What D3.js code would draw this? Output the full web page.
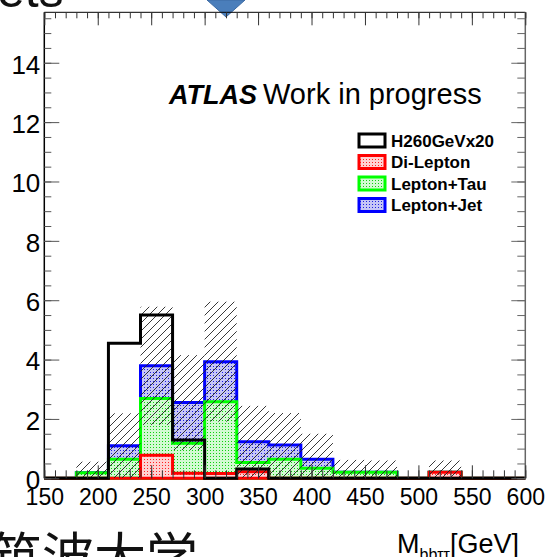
<!DOCTYPE html>
<html>
<head>
<meta charset="utf-8">
<script src="https://cdn.jsdelivr.net/npm/d3@7"></script>
<style>
  body { margin: 0; background: #fff; }
  svg { display: block; font-family: "Liberation Sans", Arial, sans-serif; }
</style>
</head>
<body>
<div id="chart"></div>
<script>
// 15 bins of 30 GeV
const binEdges = [150, 180, 210, 240, 270, 300, 330, 360, 390, 420, 450, 480, 510, 540, 570, 600];
// signal x20
const signal   = [0, 0, 4.55, 5.50, 1.29, 0, 0.31, 0, 0, 0, 0, 0, 0, 0, 0];
// backgrounds, stacked in this order
const diLepton = [0, 0, 0, 0.78, 0.17, 0.16, 0.22, 0, 0, 0, 0, 0, 0.20, 0, 0];
const lepTau   = [0, 0.19, 0.64, 1.91, 1.01, 2.42, 0.31, 0.64, 0.34, 0.20, 0.20, 0, 0, 0, 0];
const lepJet   = [0, 0, 0.46, 1.10, 1.37, 1.35, 0.70, 0.48, 0.30, 0, 0, 0, 0, 0, 0];
// uncertainty on the stack sum (hatched band)
const stackErr = [0, 0.37, 1.09, 1.99, 1.60, 2.02, 1.21, 1.08, 0.86, 0.42, 0.40, 0, 0.40, 0, 0];

const xTicks = [150, 200, 250, 300, 350, 400, 450, 500, 550, 600];
const yTicks = [0, 2, 4, 6, 8, 10, 12, 14];
const legendLabels = ["H260GeVx20", "Di-Lepton", "Lepton+Tau", "Lepton+Jet"];

const width = 551, height = 557;
const plot = { left: 44.3, right: 525.3, top: 12.3, bottom: 478.3 };

const svg = d3.select("#chart").append("svg")
  .attr("width", width)
  .attr("height", height);

const x = d3.scaleLinear().domain([150, 600]).range([plot.left, plot.right]);
const y = d3.scaleLinear().domain([0, 15.7]).range([plot.bottom, plot.top]);

// fill patterns (ROOT style dots and hatch)
const defs = svg.append("defs");
function dotPattern(id, bg, color) {
  let p = defs.append("pattern").attr("id", id)
    .attr("patternUnits", "userSpaceOnUse").attr("width", 3).attr("height", 3);
  p.append("rect").attr("width", 3).attr("height", 3).attr("fill", bg);
  p.append("rect").attr("width", 1).attr("height", 1).attr("fill", color)
    .attr("shape-rendering", "crispEdges");
}
dotPattern("dotRed", "#ffd2d2", "#ff2020");
dotPattern("dotGreen", "#d2fad2", "#10d010");
dotPattern("dotBlue", "#c6c6f6", "#2020e0");

let hatch = defs.append("pattern").attr("id", "hatch")
  .attr("patternUnits", "userSpaceOnUse").attr("width", 8).attr("height", 8);
hatch.append("path")
  .attr("d", "M0,8 L8,0 M-2,2 L2,-2 M6,10 L10,6")
  .attr("stroke", "#222").attr("stroke-width", 0.9);

// top-of-page leftovers from the slide
svg.append("text").attr("x", -3).attr("y", 7)
  .attr("font-size", 50).attr("fill", "#111").text("ets");
svg.append("polygon")
  .attr("points", "207,0 245,0 226,17")
  .attr("fill", "#4a7ebb").attr("stroke", "#3c6aa3").attr("stroke-width", 1);

// step outline of a histogram from 0
function stepPoints(vals) {
  let pts = [[binEdges[0], 0]];
  vals.forEach((v, i) => {
    pts.push([binEdges[i], v]);
    pts.push([binEdges[i + 1], v]);
  });
  pts.push([binEdges[binEdges.length - 1], 0]);
  return pts;
}
const stepLine = d3.line().x(d => x(d[0])).y(d => y(d[1]));

// cumulative stack
const cumRed = diLepton;
const cumGreen = diLepton.map((v, i) => v + lepTau[i]);
const cumBlue = cumGreen.map((v, i) => v + lepJet[i]);

const histG = svg.append("g");
[
  { vals: cumBlue, fill: "url(#dotBlue)", stroke: "#0000ff" },
  { vals: cumGreen, fill: "url(#dotGreen)", stroke: "#00ff00" },
  { vals: cumRed, fill: "url(#dotRed)", stroke: "#ff0000" },
].forEach(h => {
  histG.append("path")
    .attr("d", stepLine(stepPoints(h.vals)) + "Z")
    .attr("fill", h.fill)
    .attr("stroke", h.stroke)
    .attr("stroke-width", 3)
    .attr("stroke-linejoin", "miter");
});

// hatched uncertainty band
histG.selectAll("rect.band")
  .data(cumBlue.map((v, i) => ({ i, lo: Math.max(0, v - stackErr[i]), hi: v + stackErr[i] }))
    .filter(d => d.hi > 0))
  .enter().append("rect")
  .attr("class", "band")
  .attr("x", d => x(binEdges[d.i]))
  .attr("width", d => x(binEdges[d.i + 1]) - x(binEdges[d.i]))
  .attr("y", d => y(d.hi))
  .attr("height", d => y(d.lo) - y(d.hi))
  .attr("fill", "url(#hatch)");

// signal
histG.append("path")
  .attr("d", stepLine(stepPoints(signal)))
  .attr("fill", "none")
  .attr("stroke", "#000")
  .attr("stroke-width", 3);

// frame
svg.append("line").attr("x1", plot.left).attr("x2", plot.right)
  .attr("y1", plot.top).attr("y2", plot.top).attr("stroke", "#000");
svg.append("line").attr("x1", plot.right).attr("x2", plot.right)
  .attr("y1", plot.top).attr("y2", plot.bottom).attr("stroke", "#666").attr("stroke-width", 1.5);
svg.append("line").attr("x1", plot.left).attr("x2", plot.left)
  .attr("y1", plot.top).attr("y2", plot.bottom).attr("stroke", "#000").attr("stroke-width", 1.5);

// axes, ticks pointing inward
const xMinor = d3.range(150, 601, 10);
const yMinor = d3.range(0, 15.6, 0.5);
function tickAxis(axis, transform, color) {
  let g = svg.append("g").attr("transform", transform).call(axis);
  g.select(".domain").remove();
  g.selectAll("line").attr("stroke", color);
  return g;
}
tickAxis(d3.axisBottom(x).tickValues(xMinor).tickFormat("").tickSize(-8), `translate(0,${plot.bottom})`, "#333");
tickAxis(d3.axisTop(x).tickValues(xMinor).tickFormat("").tickSize(-6), `translate(0,${plot.top})`, "#333");
tickAxis(d3.axisTop(x).tickValues(xTicks).tickFormat("").tickSize(-13), `translate(0,${plot.top})`, "#333");
tickAxis(d3.axisLeft(y).tickValues(yMinor).tickFormat("").tickSize(-7), `translate(${plot.left},0)`, "#555");
tickAxis(d3.axisRight(y).tickValues(yMinor).tickFormat("").tickSize(-8), `translate(${plot.right},0)`, "#666");
tickAxis(d3.axisRight(y).tickValues(yTicks).tickFormat("").tickSize(-14), `translate(${plot.right},0)`, "#666");

let xAxisG = tickAxis(d3.axisBottom(x).tickValues(xTicks).tickSize(-13).tickPadding(10),
  `translate(0,${plot.bottom})`, "#333");
xAxisG.selectAll("text")
  .attr("font-size", 23)
  .attr("font-family", "Liberation Sans, Arial, sans-serif")
  .attr("fill", "#000");

let yAxisG = tickAxis(d3.axisLeft(y).tickValues(yTicks).tickSize(-15).tickPadding(4),
  `translate(${plot.left},0)`, "#555");
yAxisG.selectAll("text")
  .attr("font-size", 26)
  .attr("dy", "0.4em")
  .attr("font-family", "Liberation Sans, Arial, sans-serif")
  .attr("fill", "#000");

// ATLAS label
svg.append("text").attr("x", 169).attr("y", 104.3)
  .attr("font-size", 27).attr("font-weight", "bold").attr("font-style", "italic")
  .text("ATLAS");
svg.append("text").attr("x", 263).attr("y", 104.3)
  .attr("font-size", 29).text("Work in progress");

// legend
const legendStyles = [
  { fill: "#fff", stroke: "#000" },
  { fill: "url(#dotRed)", stroke: "#ff0000" },
  { fill: "url(#dotGreen)", stroke: "#00ff00" },
  { fill: "url(#dotBlue)", stroke: "#0000ff" },
];
const legendY = [140.5, 162, 183.5, 205];
let legend = svg.append("g");
legendLabels.forEach((lab, i) => {
  legend.append("rect")
    .attr("x", 359).attr("y", legendY[i] - 6.5)
    .attr("width", 26).attr("height", 13)
    .attr("fill", legendStyles[i].fill)
    .attr("stroke", legendStyles[i].stroke)
    .attr("stroke-width", 3);
  legend.append("text")
    .attr("x", 391).attr("y", legendY[i] + 6.2)
    .attr("font-size", 17).attr("font-weight", "bold")
    .text(lab);
});

// x axis title
let title = svg.append("text").attr("x", 397).attr("y", 553).attr("font-size", 27);
title.append("tspan").text("M");
title.append("tspan").attr("font-size", 16).attr("dy", 7).text("bb\u03c4\u03c4");
title.append("tspan").attr("dy", -7).text("[GeV]");

// university name from the slide
svg.append("text").attr("x", -10).attr("y", 576)
  .attr("font-family", "Noto Sans CJK JP").attr("font-size", 52).attr("fill", "#111")
  .text("筑波大学");
</script>
</body>
</html>
